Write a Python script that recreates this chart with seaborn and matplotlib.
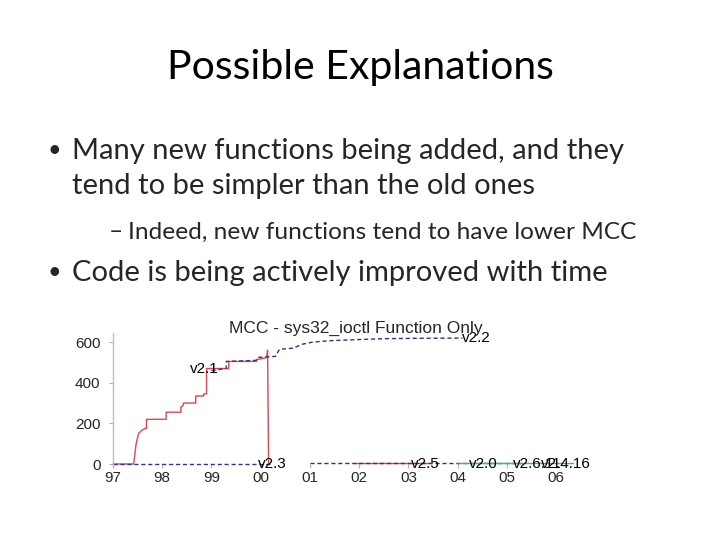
import matplotlib
matplotlib.use("Agg")
import matplotlib.pyplot as plt
import seaborn as sns
import pandas as pd

# =====================================================
# DATA
# =====================================================

red_year = [1997.0, 1997.42, 1997.47, 1997.52, 1997.58, 1997.65, 1997.68, 1997.68,
            1998.08, 1998.08, 1998.38, 1998.38, 1998.43, 1998.43, 1998.68, 1998.68,
            1998.84, 1998.84, 1998.9, 1998.9, 1999.35, 1999.35, 1999.92, 1999.92,
            2000.06, 2000.12, 2000.14, 2000.16]
red_mcc = [0, 0, 100, 150, 165, 175, 175, 220,
           220, 255, 255, 280, 290, 300, 300, 335,
           335, 345, 345, 470, 470, 505, 505, 515,
           520, 525, 560, 0]

red_low_year = [2001.9, 2003.45]
red_low_mcc = [5, 5]

blue_top_year = [1999.0, 1999.3, 1999.3, 1999.9, 1999.95, 2000.3, 2000.38, 2000.65,
                 2000.85, 2001.05, 2001.4, 2001.9, 2002.5, 2003.2, 2004.1]
blue_top_mcc = [460, 470, 505, 510, 525, 530, 565, 570,
                590, 600, 607, 612, 617, 619, 620]

blue_zero_year = [1997.0, 2000.2]
blue_zero_mcc = [0, 0]

blue_low_year = [2001.0, 2005.3]
blue_low_mcc = [3, 3]

green_year = [2004.0, 2006.35]
green_mcc = [3, 3]

version_labels = ["v2.1", "v2.2", "v2.3", "v2.5", "v2.0", "v2.6.11", "v2.4.16"]
label_year = [1998.57, 2004.08, 1999.95, 2003.05, 2004.22, 2005.13, 2005.7]
label_mcc = [470, 620, 0, 0, 0, 0, 0]

year_ticks = [1997, 1998, 1999, 2000, 2001, 2002, 2003, 2004, 2005, 2006]
year_names = ["97", "98", "99", "00", "01", "02", "03", "04", "05", "06"]
mcc_ticks = [0, 200, 400, 600]

slide_title = "Possible Explanations"
bullets = [
    ("\u2022", "Many new functions being added, and they", 0),
    ("", "tend to be simpler than the old ones", 0),
    ("\u2013", "Indeed, new functions tend to have lower MCC", 1),
    ("\u2022", "Code is being actively improved with time", 0),
]

# =====================================================
# SLIDE
# =====================================================

sns.set_style("white")
plt.rcParams["font.family"] = ["Lato", "DejaVu Sans"]

fig = plt.figure(figsize=(7.2, 5.4), dpi=100)
W, H = 720, 540

fig.text(360 / W, 1 - 67 / H, slide_title, ha="center", va="center",
         fontsize=29.5, color="black")

line_y = [151, 186, 232, 273]
for (mark, txt, level), y in zip(bullets, line_y):
    if level == 0:
        size, bx, tx = 21, 47, 72
    else:
        size, bx, tx = 17.6, 109, 128
    if mark:
        fig.text(bx / W, 1 - y / H, mark, ha="left", va="center",
                 fontsize=size * 0.8 if level == 0 else size)
    fig.text(tx / W, 1 - y / H, txt, ha="left", va="center", fontsize=size)

# =====================================================
# CHART
# =====================================================

ax = fig.add_axes([113 / W, 1 - 464 / H, (598 - 113) / W, (464 - 333) / H])

red_color = "#e04550"
blue_color = "#33337f"
green_color = "#3cc43c"

segments = [
    (red_year, red_mcc, red_color, "-"),
    (red_low_year, red_low_mcc, red_color, "-"),
    (blue_zero_year, blue_zero_mcc, blue_color, "--"),
    (blue_low_year, blue_low_mcc, blue_color, "--"),
    (green_year, green_mcc, green_color, "-"),
    (blue_top_year, blue_top_mcc, blue_color, "--"),
]
for xs, ys, col, ls in segments:
    df = pd.DataFrame({"year": xs, "mcc": ys})
    sns.lineplot(data=df, x="year", y="mcc", ax=ax, color=col,
                 linewidth=1.0, sort=False, estimator=None, clip_on=False)
    if ls == "--":
        ax.lines[-1].set_dashes((3, 2))

for lab, xv, yv in zip(version_labels, label_year, label_mcc):
    ax.text(xv, yv, lab, ha="left", va="center", fontsize=11,
            family="Liberation Sans", color="black")

ax.set_xlim(1997, 2006.85)
ax.set_ylim(0, 645)
ax.set_xticks(year_ticks)
ax.set_xticklabels(year_names, family="Liberation Sans", fontsize=11)
ax.set_yticks(mcc_ticks)
ax.set_yticklabels([str(v) for v in mcc_ticks], family="Liberation Sans", fontsize=11)
ax.set_xlabel("")
ax.set_ylabel("")
ax.tick_params(axis="both", length=3, width=0.8, color="#b0b0b0", pad=2)
ax.tick_params(axis="x", direction="out", bottom=True)
ax.tick_params(axis="y", direction="out", left=True, pad=6)

for side in ["top", "right", "bottom"]:
    ax.spines[side].set_visible(False)
ax.spines["left"].set_color("#c0c0c0")
ax.spines["left"].set_linewidth(1.0)

ax.set_title("MCC - sys32_ioctl Function Only", family="Liberation Sans",
             fontsize=12.5, pad=0)

fig.savefig("out.png", dpi=100)
plt.close(fig)
